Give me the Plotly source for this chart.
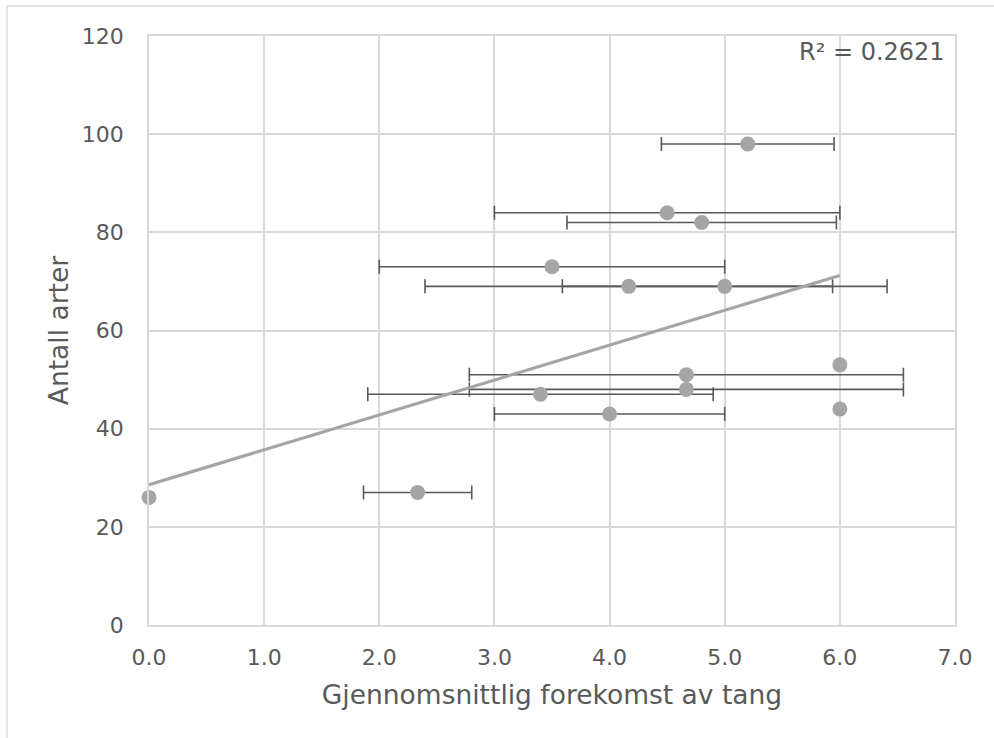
import numpy as np
import plotly.graph_objects as go

# Data
x_mean = [0.0, 2.333, 3.4, 4.667, 4.667, 6.0, 6.0, 4.0, 4.167, 5.0, 3.5, 4.5, 4.8, 5.2]
species = [26, 27, 47, 51, 48, 53, 44, 43, 69, 69, 73, 84, 82, 98]
x_err = [0.0, 0.47, 1.5, 1.885, 1.885, 0.0, 0.0, 1.0, 1.77, 1.41, 1.5, 1.5, 1.17, 0.75]
x_ticks = [0, 1, 2, 3, 4, 5, 6, 7]
y_ticks = [0, 20, 40, 60, 80, 100, 120]
r2_text = "R² = 0.2621"
x_title = "Gjennomsnittlig forekomst av tang"
y_title = "Antall arter"

xm = np.array(x_mean)
ys = np.array(species)
xe = np.array(x_err)

FONT = "DejaVu Sans"
TXT = "#595959"
GRID = "#d9d9d9"
MARK = "#a5a5a5"

fig = go.Figure()

has_err = xe > 0
fig.add_trace(go.Scatter(
    x=xm[has_err], y=ys[has_err], mode="markers",
    marker=dict(size=15, color=MARK),
    error_x=dict(type="data", array=xe[has_err], visible=True,
                 color="#595959", thickness=1.6, width=7),
    cliponaxis=False, showlegend=False, hoverinfo="skip"))
fig.add_trace(go.Scatter(
    x=xm[~has_err], y=ys[~has_err], mode="markers",
    marker=dict(size=15, color=MARK),
    cliponaxis=False, showlegend=False, hoverinfo="skip"))

# linear trendline (least squares) across data x-range
slope, intercept = np.polyfit(xm, ys, 1)
xl = np.array([xm.min(), xm.max()])
fig.add_trace(go.Scatter(
    x=xl, y=slope * xl + intercept, mode="lines",
    line=dict(color=MARK, width=3.2), showlegend=False, hoverinfo="skip"))

fig.add_annotation(
    x=1, y=1, xref="paper", yref="paper", xanchor="right", yanchor="top",
    xshift=-8, yshift=0, text=r2_text, showarrow=False,
    font=dict(family=FONT, size=24, color=TXT))

# outer chart border
fig.add_shape(type="rect", xref="paper", yref="paper",
              x0=(7 - 149) / 806, x1=1.2, y0=-0.3, y1=1 + (36 - 6) / 589,
              line=dict(color=GRID, width=1.5), layer="below")

fig.update_layout(
    width=994, height=738,
    margin=dict(l=149, r=39, t=36, b=113),
    paper_bgcolor="white", plot_bgcolor="white",
    font=dict(family=FONT, color=TXT, size=22),
    xaxis=dict(range=[0, 7], tickvals=x_ticks, tickformat=".1f",
               showgrid=True, gridcolor=GRID, gridwidth=1.5,
               showline=True, linecolor=GRID, linewidth=1.5, mirror=True,
               zeroline=False, ticks="", ticklabelstandoff=12,
               tickfont=dict(family=FONT, size=22, color=TXT),
               title=dict(text=x_title, standoff=16,
                          font=dict(family=FONT, size=26.5, color=TXT))),
    yaxis=dict(range=[0, 120], tickvals=y_ticks,
               showgrid=True, gridcolor=GRID, gridwidth=1.5,
               showline=True, linecolor=GRID, linewidth=1.5, mirror=True,
               zeroline=False, ticks="", ticklabelstandoff=19,
               tickfont=dict(family=FONT, size=22, color=TXT),
               title=dict(text=y_title, standoff=6,
                          font=dict(family=FONT, size=26.5, color=TXT))),
)

fig.write_html("out.html", config={"displayModeBar": False},
               post_script="document.body.style.margin='0';")
